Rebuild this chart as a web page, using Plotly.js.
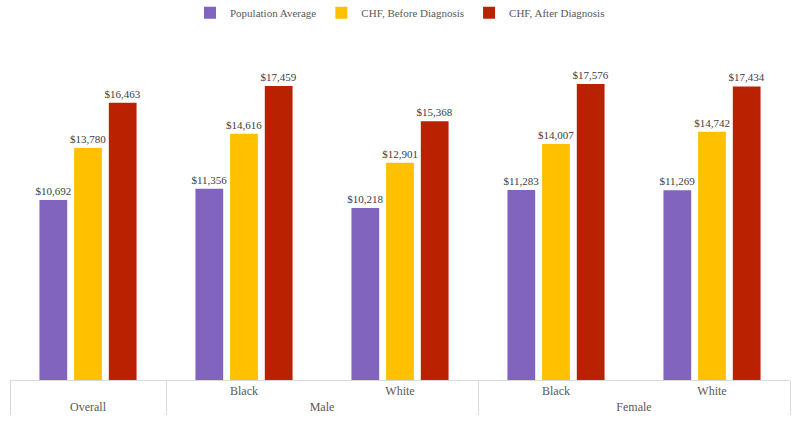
<!DOCTYPE html>
<html><head><meta charset="utf-8">
<script src="https://cdn.plot.ly/plotly-3.0.1.min.js"></script>
<style>html,body{margin:0;padding:0;background:#fff}#chart{width:800px;height:425px}</style>
</head><body><div id="chart"></div>
<script>
const outerCats = ["Overall", "Male", "Male", "Female", "Female"];
const innerCats = [" ", "Black", "White", "Black", "White"];
const seriesNames = ["Population Average", "CHF, Before Diagnosis", "CHF, After Diagnosis"];
const popAverage = [10692, 11356, 10218, 11283, 11269];
const chfBefore = [13780, 14616, 12901, 14007, 14742];
const chfAfter = [16463, 17459, 15368, 17576, 17434];
const colors = ["#8064BE", "#FFC000", "#BA2100"];

const fmt = v => "$" + v.toLocaleString("en-US");
const font = "Liberation Serif";
const data = [popAverage, chfBefore, chfAfter].map((vals, i) => ({
  type: "bar",
  name: seriesNames[i],
  x: [outerCats, innerCats],
  y: vals,
  marker: {color: colors[i]},
  text: vals.map(fmt),
  textposition: "outside",
  constraintext: "none",
  cliponaxis: false,
  textfont: {family: font, size: 11, color: "#404040"},
  hoverinfo: "skip"
}));

const layout = {
  width: 800, height: 425,
  margin: {l: 10, r: 10, t: 40, b: 45},
  paper_bgcolor: "#fff", plot_bgcolor: "#fff",
  barmode: "group", bargap: 0.333, bargroupgap: 0.2,
  showlegend: true,
  legend: {orientation: "h", x: 0.5, xanchor: "center", yref: "container", y: 0.97, yanchor: "middle",
           itemwidth: 30,
           font: {family: font, size: 11, color: "#595959"}},
  xaxis: {type: "multicategory", showline: true, linecolor: "#d9d9d9", linewidth: 1,
          showdividers: true, dividercolor: "#d9d9d9", dividerwidth: 1,
          tickfont: {family: font, size: 12, color: "#595959"}, ticks: "", showgrid: false},
  yaxis: {range: [0, 20190], visible: false, showgrid: false, zeroline: false},
  font: {family: font}
};
Plotly.newPlot("chart", data, layout, {staticPlot: true});
</script></body></html>
